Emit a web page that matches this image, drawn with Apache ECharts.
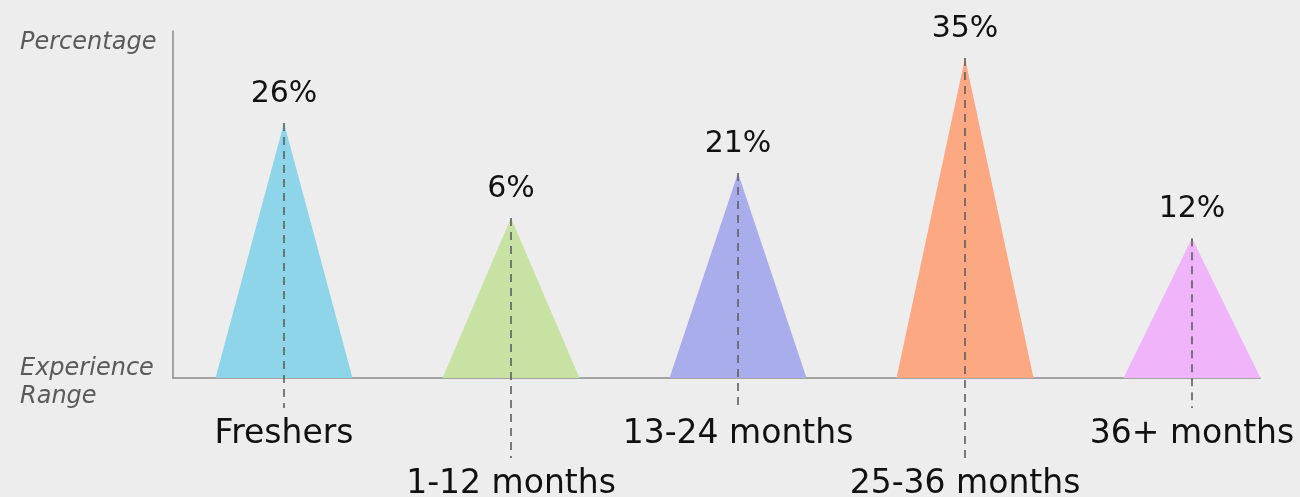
<!DOCTYPE html>
<html>
<head>
<meta charset="utf-8">
<script src="https://cdn.jsdelivr.net/npm/echarts@6/dist/echarts.min.js"></script>
<style>
  html, body { margin: 0; padding: 0; background: #ededed; }
  #chart { width: 1300px; height: 497px; }
</style>
</head>
<body>
<div id="chart"></div>
<script>
// categories and values
const categories = ['Freshers', '1-12 months', '13-24 months', '25-36 months', '36+ months']
const shares = [26, 6, 21, 35, 12]
// drawn triangle heights (percent of plot height), they are not proportional to the shares
const triangleHeight = [73.5, 46.1, 59.1, 92.2, 40.3]
const colors = ['#8ed5ea', '#c8e2a4', '#a9adec', '#fca882', '#efb4fa']

const fontFamily = '"DejaVu Sans", "Noto Sans", sans-serif'
const chart = echarts.init(document.getElementById('chart'))

const option = {
  backgroundColor: '#ededed',
  animation: false,
  grid: [
    // bars grid: 5 categories of 227px each, runs a bit past the right edge
    { left: 170.5, width: 1135, top: 31, bottom: 119, outerBoundsMode: 'none' },
    // axes lines grid
    { left: 173, right: 40, top: 31, bottom: 119, outerBoundsMode: 'none' },
  ],
  xAxis: [
    {
      type: 'category',
      gridIndex: 0,
      data: categories,
      axisLine: { show: false },
      axisTick: { show: false },
      axisLabel: {
        interval: 0,
        margin: 37,
        formatter: (v, i) => (i % 2 ? '{low|' + v + '}' : '{high|' + v + '}'),
        rich: {
          high: { fontSize: 33, lineHeight: 38, color: '#111', fontFamily },
          low: { fontSize: 33, lineHeight: 38, color: '#111', fontFamily, padding: [100, 0, 0, 0] },
        },
      },
    },
    {
      type: 'value',
      gridIndex: 1,
      min: 0,
      max: 1,
      axisLine: { show: true, lineStyle: { color: '#8a8a8a', width: 1.5 } },
      axisTick: { show: false },
      axisLabel: { show: false },
      splitLine: { show: false },
    },
  ],
  yAxis: [
    {
      type: 'value',
      gridIndex: 0,
      min: 0,
      max: 100,
      show: false,
    },
    {
      type: 'value',
      gridIndex: 1,
      min: 0,
      max: 1,
      axisLine: { show: true, lineStyle: { color: '#8a8a8a', width: 1.5 } },
      axisTick: { show: false },
      axisLabel: { show: false },
      splitLine: { show: false },
    },
  ],
  graphic: [
    {
      type: 'text',
      left: 20,
      top: 31,
      style: { text: 'Percentage', fill: '#5a5a5a', font: 'italic 24px ' + fontFamily },
    },
    {
      type: 'text',
      left: 20,
      top: 355,
      style: { text: 'Experience\nRange', fill: '#5a5a5a', font: 'italic 24px ' + fontFamily, lineHeight: 28 },
    },
  ],
  series: [
    {
      type: 'pictorialBar',
      xAxisIndex: 0,
      yAxisIndex: 0,
      symbol: 'triangle',
      symbolSize: [137, '100%'],
      data: triangleHeight.map((h, i) => ({ value: h, itemStyle: { color: colors[i] } })),
      label: {
        show: true,
        position: 'top',
        distance: 14,
        fontSize: 30,
        color: '#111',
        fontFamily,
        formatter: (p) => shares[p.dataIndex] + '%',
      },
      z: 2,
    },
    {
      // dashed guide from the apex down past the axis
      type: 'custom',
      xAxisIndex: 0,
      yAxisIndex: 0,
      data: triangleHeight.map((h, i) => [i, h]),
      renderItem(params, api) {
        const top = api.coord([api.value(0), api.value(1)])
        const base = api.coord([api.value(0), 0])
        const ext = params.dataIndex % 2 ? 80 : 30
        return {
          type: 'line',
          shape: { x1: top[0], y1: top[1], x2: base[0], y2: base[1] + ext },
          style: { stroke: '#5e5e5e', lineWidth: 1.6, lineDash: [8, 6] },
        }
      },
      z: 3,
    },
  ],
}

chart.setOption(option)
</script>
</body>
</html>
